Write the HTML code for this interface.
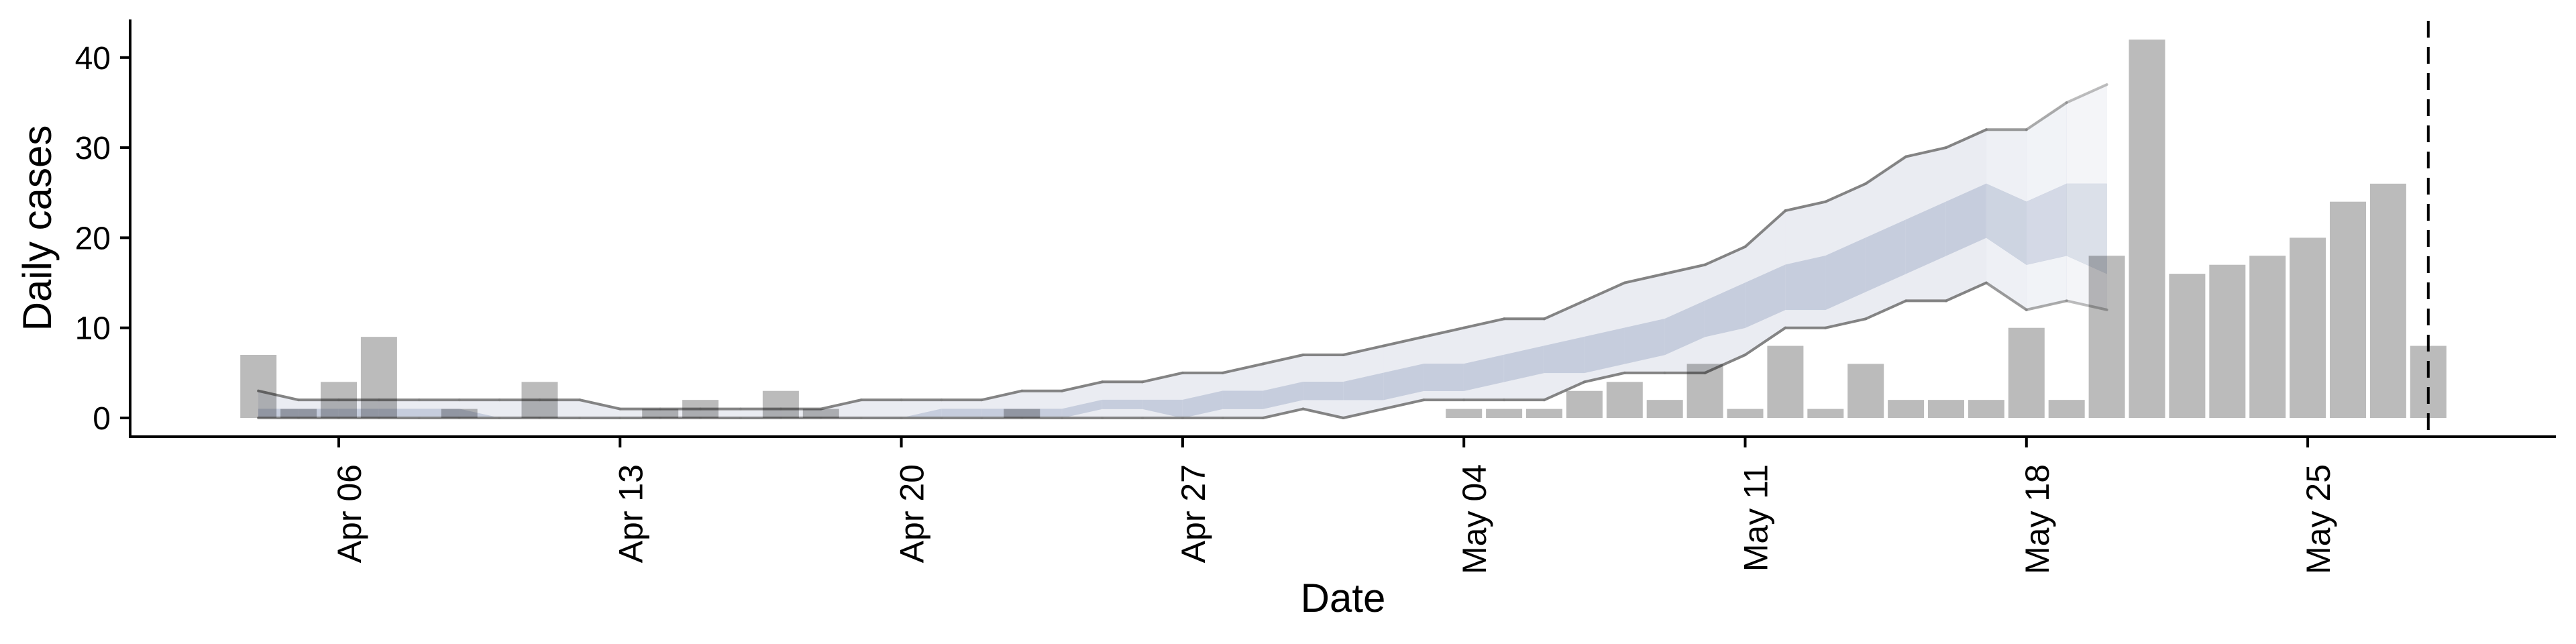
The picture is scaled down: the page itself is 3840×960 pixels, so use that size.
<!DOCTYPE html>
<html><head><meta charset="utf-8"><style>
html,body{margin:0;padding:0;background:#fff}
svg{display:block}
text{font-family:"Liberation Sans",sans-serif;fill:#000}
</style></head><body>
<svg id="chart" width="3840" height="960" viewBox="0 0 3840 960" xmlns="http://www.w3.org/2000/svg">
<g id="ribbons"></g>
<g id="lines"></g>
<g id="bars" style="isolation:auto"></g>
<g id="axes"></g>
</svg>
<script>
// day index 0 = Apr 04
const cases = [7,1,4,9,0,1,0,4,0,0,1,2,0,3,1,0,0,0,0,1,0,0,0,0,0,0,0,0,0,0,1,1,1,3,4,2,6,1,8,1,6,2,2,2,10,2,18,42,16,17,18,20,24,26,8];
const upper90 = [3,2,2,2,2,2,2,2,2,1,1,1,1,1,1,2,2,2,2,3,3,4,4,5,5,6,7,7,8,9,10,11,11,13,15,16,17,19,23,24,26,29,30,32,32,35,37];
const lower90 = [0,0,0,0,0,0,0,0,0,0,0,0,0,0,0,0,0,0,0,0,0,0,0,0,0,0,1,0,1,2,2,2,2,4,5,5,5,7,10,10,11,13,13,15,12,13,12];
const upper50 = [1,1,1,1,1,1,0,0,0,0,0,0,0,0,0,0,0,1,1,1,1,2,2,2,3,3,4,4,5,6,6,7,8,9,10,11,13,15,17,18,20,22,24,26,24,26,26];
const lower50 = [0,0,0,0,0,0,0,0,0,0,0,0,0,0,0,0,0,0,0,0,0,1,1,0,1,1,2,2,2,3,3,4,5,5,6,7,9,10,12,12,14,16,18,20,17,18,16];
const yTicks = [0,10,20,30,40];
const xTickLabels = ["Apr 06","Apr 13","Apr 20","Apr 27","May 04","May 11","May 18","May 25"];
const xTickDays = [2,9,16,23,30,37,44,51];
const cutoffDay = 54;

const NS="http://www.w3.org/2000/svg";
const X = d => 505 + (d-2)*59.9;
const Y = v => 623 - v*13.43;
function mk(tag, attrs, parent){const e=document.createElementNS(NS,tag);for(const k in attrs)e.setAttribute(k,attrs[k]);parent.appendChild(e);return e;}
const rib=document.getElementById('ribbons'), ln=document.getElementById('lines'), br=document.getElementById('bars'), ax=document.getElementById('axes');
const n = upper90.length;
function segOp(i){ if(i>=n-2) return 0.5; if(i===n-3) return 0.65; if(i===n-4) return 0.8; return 1; }
for(let i=0;i<n-1;i++){
  const op=segOp(i);
  const p1=mk('polygon',{points:`${X(i)},${Y(upper90[i])} ${X(i+1)},${Y(upper90[i+1])} ${X(i+1)},${Y(lower90[i+1])} ${X(i)},${Y(lower90[i])}`,fill:'#eaecf2','fill-opacity':op,stroke:'#eaecf2','stroke-opacity':op,'stroke-width':0.5},rib);
  
  
  const p2=mk('polygon',{points:`${X(i)},${Y(upper50[i])} ${X(i+1)},${Y(upper50[i+1])} ${X(i+1)},${Y(lower50[i+1])} ${X(i)},${Y(lower50[i])}`,fill:'#c6cddd','fill-opacity':op*0.9+0.1,stroke:'#c6cddd','stroke-opacity':op,'stroke-width':0.5},rib);
  
  
  [upper90,lower90].forEach((arr,k)=>{
    const l=mk('line',{x1:X(i),y1:Y(arr[i]),x2:X(i+1),y2:Y(arr[i+1]),stroke:'#7d7d7d','stroke-width':4,'stroke-opacity':op*0.9+0.05,'stroke-linecap':'round'},ln);
    
    
  });
}
cases.forEach((v,i)=>{
  if(v<=0) return;
  const r=mk('rect',{x:X(i)-27,y:Y(v),width:54,height:Y(0)-Y(v),fill:'#bbbbbb',style:'mix-blend-mode:multiply'},br);
  
  
});
// axes
let a=mk('line',{x1:194,y1:29,x2:194,y2:653,stroke:'#000','stroke-width':4},ax);

a=mk('line',{x1:192,y1:651,x2:3810,y2:651,stroke:'#000','stroke-width':4},ax);

yTicks.forEach(v=>{
  const t=mk('line',{x1:179,y1:Y(v),x2:194,y2:Y(v),stroke:'#000','stroke-width':4},ax);
  
  const tx=mk('text',{x:165,y:Y(v)+17,'text-anchor':'end','font-size':48},ax);
  tx.textContent=v;
  
});
xTickDays.forEach((d,i)=>{
  const t=mk('line',{x1:X(d),y1:651,x2:X(d),y2:667,stroke:'#000','stroke-width':4},ax);
  
  const tx=mk('text',{x:0,y:0,'text-anchor':'end','font-size':50,transform:`translate(${X(d)+33},692) rotate(-90)`},ax);
  tx.textContent=xTickLabels[i];
  
});
a=mk('line',{x1:X(cutoffDay),y1:31,x2:X(cutoffDay),y2:651,stroke:'#000','stroke-width':4,'stroke-dasharray':'25 14'},ax);

a=mk('text',{x:0,y:0,'text-anchor':'middle','font-size':60,transform:'translate(76,340) rotate(-90)'},ax);
a.textContent='Daily cases';

a=mk('text',{x:2002,y:912,'text-anchor':'middle','font-size':60},ax);
a.textContent='Date';

</script>
</body></html>
